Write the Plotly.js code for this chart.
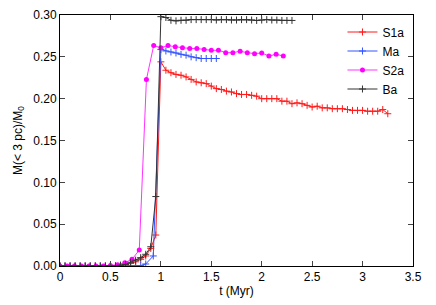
<!DOCTYPE html>
<html>
<head>
<meta charset="utf-8">
<script src="https://cdn.plot.ly/plotly-3.0.1.min.js"></script>
<style>html,body{margin:0;padding:0;background:#fff;}#chart{width:436px;height:305px;}</style>
</head>
<body>
<div id="chart"></div>
<script>
// S1a
const tS1a = [0,0.05,0.1,0.15,0.2,0.25,0.3,0.35,0.4,0.45,0.5,0.55,0.6,0.65,0.7,0.75,0.8,0.85,0.9,0.95,
  1.0,1.05,1.1,1.15,1.2,1.25,1.3,1.35,1.4,1.45,1.5,1.55,1.6,1.65,1.7,1.75,1.8,1.85,1.9,1.95,
  2.0,2.05,2.1,2.15,2.2,2.25,2.3,2.35,2.4,2.45,2.5,2.55,2.6,2.65,2.7,2.75,2.8,2.85,2.9,2.95,
  3.0,3.05,3.1,3.15,3.2,3.25];
const mS1a = [0,0,0,0,0,0,0,0,0,0,0,0,0.0008,0.0015,0.003,0.005,0.008,0.012,0.021,0.037,
  0.244,0.234,0.231,0.229,0.228,0.226,0.223,0.220,0.219,0.218,0.215,0.212,0.211,0.209,0.208,0.206,0.205,0.205,0.204,0.203,
  0.200,0.200,0.200,0.200,0.197,0.197,0.194,0.195,0.194,0.192,0.190,0.191,0.189,0.189,0.188,0.188,0.188,0.187,0.186,0.186,
  0.186,0.185,0.185,0.185,0.187,0.182];
// Ma
const tMa = [0,0.05,0.1,0.15,0.2,0.25,0.3,0.35,0.4,0.45,0.5,0.55,0.6,0.65,0.7,0.75,0.8,0.85,0.925,
  1.0,1.05,1.1,1.15,1.2,1.25,1.3,1.35,1.4,1.45,1.5,1.55];
const mMa = [0,0,0,0,0,0,0,0,0,0,0,0,0,0,0,0,0.0005,0.0024,0.012,
  0.2587,0.257,0.2558,0.2546,0.253,0.252,0.250,0.249,0.248,0.248,0.248,0.248];
// S2a
const tS2a = [0,0.071,0.143,0.214,0.286,0.357,0.429,0.5,0.571,0.643,0.714,0.786,0.857,0.929,
  1.0,1.071,1.143,1.214,1.286,1.357,1.429,1.5,1.571,1.643,1.714,1.786,1.857,1.929,2.0,2.071,2.143,2.214];
const mS2a = [0,0,0,0,0,0,0,0.0005,0.0015,0.004,0.008,0.019,0.223,0.2635,
  0.2608,0.2635,0.262,0.261,0.260,0.260,0.2587,0.2578,0.2578,0.255,0.255,0.2566,0.255,0.2538,0.2546,0.251,0.253,0.251];
// Ba
const tBa = [0,0.05,0.1,0.15,0.2,0.25,0.3,0.35,0.4,0.45,0.5,0.55,0.6,0.65,0.7,0.75,0.8,0.85,0.9,0.95,
  1.0,1.05,1.1,1.15,1.2,1.25,1.3,1.35,1.4,1.45,1.5,1.55,1.6,1.65,1.7,1.75,1.8,1.85,1.9,1.95,
  2.0,2.05,2.1,2.15,2.2,2.25,2.3];
const mBa = [0,0,0,0,0,0,0,0,0,0,0,0,0.001,0.002,0.0045,0.007,0.010,0.014,0.023,0.083,
  0.298,0.297,0.2937,0.293,0.2937,0.2937,0.2945,0.2945,0.2945,0.2945,0.2945,0.294,0.2945,0.2945,0.294,0.294,0.2945,0.2945,0.294,0.2935,
  0.294,0.2945,0.294,0.294,0.2935,0.2935,0.2935];

const xTicks = [0,0.5,1,1.5,2,2.5,3,3.5];
const yTicks = [0,0.05,0.1,0.15,0.2,0.25,0.3];

function cross(name, x, y, color) {
  return {type:'scatter', mode:'lines+markers', name:name, x:x, y:y,
    line:{color:color, width:1},
    marker:{symbol:'cross-thin', size:5, color:color, line:{color:color, width:1}}};
}
const traces = [
  cross('S1a', tS1a, mS1a, '#ff1a1a'),
  cross('Ma', tMa, mMa, '#3355ff'),
  {type:'scatter', mode:'lines+markers', name:'S2a', x:tS2a, y:mS2a,
    line:{color:'#ff33ff', width:1},
    marker:{symbol:'circle', size:5, color:'#ff00ff'}},
  cross('Ba', tBa, mBa, '#333333')
];

const axisCommon = {
  showline:true, linecolor:'#000', linewidth:1, mirror:'ticks',
  ticks:'inside', ticklen:5, tickcolor:'#444', tickwidth:1,
  showgrid:false, zeroline:false,
  tickfont:{family:'Liberation Sans, Arial, sans-serif', size:12, color:'#000'}
};

const layout = {
  width:436, height:305,
  margin:{l:60, r:23, t:15, b:39},
  paper_bgcolor:'#fff', plot_bgcolor:'#fff',
  font:{family:'Liberation Sans, Arial, sans-serif', size:12, color:'#000'},
  xaxis:Object.assign({}, axisCommon, {
    range:[0,3.5], tickvals:xTicks, ticktext:xTicks.map(String),
    title:{text:'t (Myr)', font:{size:12}, standoff:2}
  }),
  yaxis:Object.assign({}, axisCommon, {
    range:[0,0.3], tickvals:yTicks, tickformat:'.2f',
    title:{text:'M(< 3 pc)/M<sub>0</sub>', font:{size:12}, standoff:8}
  }),
  showlegend:true,
  legend:{x:0.99, xanchor:'right', y:0.99, yanchor:'top', bgcolor:'rgba(0,0,0,0)',
    font:{size:12}, tracegroupgap:0, itemwidth:30}
};

Plotly.newPlot('chart', traces, layout, {displayModeBar:false, staticPlot:true});
</script>
</body>
</html>
